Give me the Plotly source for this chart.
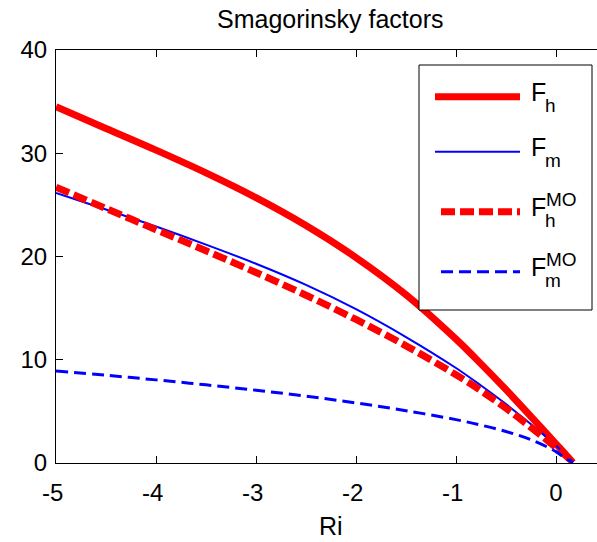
import plotly.graph_objects as go

# ---- data ----
ri = [-5, -4.5, -4, -3.5, -3, -2.5, -2, -1.5, -1, -0.75, -0.5, -0.25, 0, 0.1, 0.17]
F_h = [34.5, 32.4, 30.3, 28.1, 25.7, 23.0, 19.9, 16.3, 12.0, 9.6, 7.1, 4.5, 1.85, 0.8, 0.05]
F_m = [26.15, 24.55, 22.9, 21.15, 19.3, 17.25, 14.9, 12.2, 9.2, 7.5, 5.7, 3.75, 1.7, 0.75, 0.05]
F_h_MO = [26.7, 24.65, 22.6, 20.55, 18.45, 16.25, 13.9, 11.35, 8.55, 7.0, 5.3, 3.45, 1.5, 0.7, 0.05]
F_m_MO = [8.92, 8.5, 8.05, 7.57, 7.05, 6.47, 5.82, 5.07, 4.2, 3.67, 3.05, 2.25, 1.1, 0.4, 0.05]

x_ticks = [-5, -4, -3, -2, -1, 0]
x_tick_labels = ["-5", "-4", "-3", "-2", "-1", "0"]
y_ticks = [0, 10, 20, 30, 40]
y_tick_labels = ["0", "10", "20", "30", "40"]

W, H = 597, 542
ML, MR, MT, MB = 56, 0, 50, 79
FONT = "Liberation Sans, Arial, Helvetica, sans-serif"
RED, BLUE = "#ff0000", "#0000ff"

series = [
    ("F_h", F_h, RED, 7, "solid", 7),
    ("F_m", F_m, BLUE, 2, "solid", 2),
    ("F_h_MO", F_h_MO, RED, 7, "14px,5px", 7),
    ("F_m_MO", F_m_MO, BLUE, 3, "12px,6px", 3),
]

fig = go.Figure()
for name, ys, col, w, dash, _ in series:
    fig.add_trace(go.Scatter(x=ri, y=ys, mode="lines", name=name,
                             line=dict(color=col, width=w, dash=dash, shape="spline", smoothing=1.0),
                             showlegend=False))

pw = W - ML - MR
ph = H - MT - MB
def px(x):
    return (x - ML) / pw
def py(y):
    return (MT + ph - y) / ph

shapes = []
annotations = []
# legend box
shapes.append(dict(type="rect", xref="paper", yref="paper", x0=px(419), x1=px(592), y0=py(310), y1=py(65),
                   line=dict(color="black", width=1), fillcolor="white", layer="above"))
rows_y = [96.7, 151.7, 211.7, 271.7]
subs = ["h", "m", "h", "m"]
sups = [None, None, "MO", "MO"]
for (name, ys, col, w, dash, lw), ry, sb, sp in zip(series, rows_y, subs, sups):
    x0 = 435 if dash == "solid" else 441
    shapes.append(dict(type="line", xref="paper", yref="paper", x0=px(x0), x1=px(520), y0=py(ry), y1=py(ry),
                       line=dict(color=col, width=lw, dash=dash), layer="above"))
    base = ry + 4
    annotations.append(dict(text="F", xref="paper", yref="paper", x=px(529), y=py(base - 8.5),
                            xanchor="left", yanchor="middle", showarrow=False,
                            font=dict(family=FONT, size=25, color="black")))
    annotations.append(dict(text=sb, xref="paper", yref="paper", x=px(543), y=py(base + 11 - 6),
                            xanchor="left", yanchor="middle", showarrow=False,
                            font=dict(family=FONT, size=19, color="black")))
    if sp:
        annotations.append(dict(text=sp, xref="paper", yref="paper", x=px(544), y=py(base - 10 - 6),
                                xanchor="left", yanchor="middle", showarrow=False,
                                font=dict(family=FONT, size=19, color="black")))

annotations.append(dict(text="Smagorinsky factors", xref="paper", yref="paper", x=px(330), y=py(19),
                        xanchor="center", yanchor="middle", showarrow=False,
                        font=dict(family=FONT, size=25, color="black")))
annotations.append(dict(text="Ri", xref="paper", yref="paper", x=px(331), y=py(526),
                        xanchor="center", yanchor="middle", showarrow=False,
                        font=dict(family=FONT, size=25, color="black")))

# negative labels in the reference sit slightly left of their ticks
x_text = [t + "\u00a0" if t.startswith("-") else t for t in x_tick_labels]

fig.update_layout(
    width=W, height=H,
    margin=dict(l=ML, r=MR, t=MT, b=MB, pad=0),
    paper_bgcolor="white", plot_bgcolor="white",
    font=dict(family=FONT, size=24, color="black"),
    shapes=shapes, annotations=annotations,
    xaxis=dict(range=[-5, 0.41], tickvals=x_ticks, ticktext=x_text,
               ticks="inside", ticklen=7, tickcolor="black", showline=True, linecolor="black",
               linewidth=1, mirror="ticks", showgrid=False, zeroline=False,
               ticklabelstandoff=8),
    yaxis=dict(range=[0, 40], tickvals=y_ticks, ticktext=y_tick_labels,
               ticks="inside", ticklen=7, tickcolor="black", showline=True, linecolor="black",
               linewidth=1, mirror=False, showgrid=False, zeroline=False,
               ticklabelstandoff=3),
)

fig.write_html("out.html")
